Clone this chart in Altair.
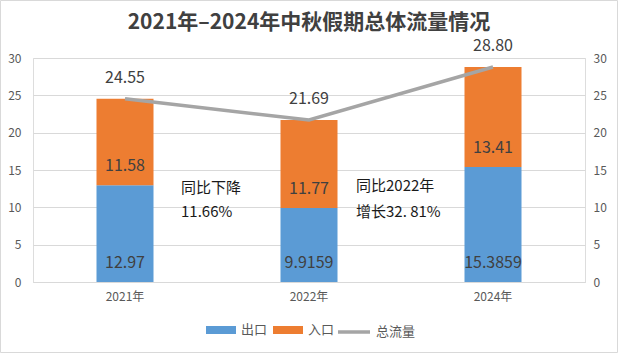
import altair as alt
import pandas as pd

# ---- data ----
years = ["2021年", "2022年", "2024年"]
series = ["出口", "入口"]
out_vals = [12.97, 9.9159, 15.3859]
in_vals = [11.58, 11.77, 13.41]
out_labels = ["12.97", "9.9159", "15.3859"]
in_labels = ["11.58", "11.77", "13.41"]
total_name = "总流量"
total_vals = [24.55, 21.69, 28.80]
total_labels = ["24.55", "21.69", "28.80"]

ann_years = ["2021年", "2021年", "2022年", "2022年"]
ann_texts = ["同比下降", "11.66%", "同比2022年", "增长32. 81%"]
ann_vals = [12.6, 9.4, 12.9, 9.4]

title_text = "2021年–2024年中秋假期总体流量情况"
colors = ["#5B9BD5", "#ED7D31"]
line_color = "#A5A5A5"
FONT = "Noto Sans CJK SC"

# ---- tables ----
rows = []
for i, yr in enumerate(years):
    rows.append({"year": yr, "series": series[0], "y": 0.0, "y1": out_vals[i], "label": out_labels[i]})
    rows.append({"year": yr, "series": series[1], "y": out_vals[i], "y1": out_vals[i] + in_vals[i], "label": in_labels[i]})
bars_df = pd.DataFrame(rows)
line_df = pd.DataFrame({"year": years, "name": total_name, "y": total_vals, "label": total_labels})
ann_df = pd.DataFrame({"year": ann_years, "text": ann_texts, "y": ann_vals})

x_enc = alt.X(
    "year:N", sort=years,
    scale=alt.Scale(paddingInner=0.69, paddingOuter=0.345),
    axis=alt.Axis(title=None, labelAngle=0, ticks=False, domain=True, domainColor="#D9D9D9",
                  labelColor="#595959", labelFontSize=12, labelPadding=9, labelFont=FONT),
)
y_scale = alt.Scale(domain=[0, 30], nice=False, zero=True)
left_axis = alt.Axis(title=None, values=[0, 5, 10, 15, 20, 25, 30], grid=True, gridColor="#D9D9D9",
                     domain=False, ticks=False, labelColor="#595959", labelFontSize=12,
                     labelPadding=12, labelFont=FONT)
right_axis = alt.Axis(title=None, orient="right", values=[0, 5, 10, 15, 20, 25, 30], grid=False,
                      domain=False, ticks=False, labelColor="#595959", labelFontSize=12,
                      labelPadding=8, labelFont=FONT)

bars = alt.Chart(bars_df).mark_bar(size=57).encode(
    x=x_enc,
    y=alt.Y("y:Q", scale=y_scale, axis=left_axis),
    y2="y1:Q",
    color=alt.Color("series:N", scale=alt.Scale(domain=series, range=colors),
                    legend=alt.Legend(orient="none", legendX=173, legendY=257, direction="horizontal",
                                      title=None, symbolType="M-1,-0.267H1V0.267H-1Z", symbolSize=900,
                                      symbolStrokeWidth=0, labelFontSize=13, labelColor="#595959",
                                      labelFont=FONT, labelOffset=5, columnPadding=5)),
)

seg_text = alt.Chart(bars_df).mark_text(fontSize=16, color="#404040", baseline="middle", align="center",
                                        dy=-19, font=FONT).encode(
    x=x_enc,
    y=alt.Y("y:Q", scale=y_scale, axis=left_axis),
    text="label:N",
)

ann1 = alt.Chart(ann_df).transform_filter(alt.datum.year == years[0]).mark_text(
    fontSize=15, color="#1a1a1a", align="left", baseline="middle", dx=56, font=FONT).encode(
    x=x_enc, y=alt.Y("y:Q", scale=y_scale, axis=left_axis), text="text:N")
ann2 = alt.Chart(ann_df).transform_filter(alt.datum.year == years[1]).mark_text(
    fontSize=15, color="#1a1a1a", align="left", baseline="middle", dx=47, font=FONT).encode(
    x=x_enc, y=alt.Y("y:Q", scale=y_scale, axis=left_axis), text="text:N")

left = alt.layer(bars, seg_text, ann1, ann2)

line = alt.Chart(line_df).mark_line(strokeWidth=3.5).encode(
    x=x_enc,
    y=alt.Y("y:Q", scale=y_scale, axis=right_axis),
    stroke=alt.Stroke("name:N", scale=alt.Scale(domain=[total_name], range=[line_color]),
                      legend=alt.Legend(orient="none", legendX=303, legendY=256, title=None,
                                        symbolType="stroke", symbolSize=1024, symbolStrokeWidth=3.5,
                                        labelFontSize=13, labelColor="#595959", labelFont=FONT,
                                        labelOffset=4)),
)
line_text = alt.Chart(line_df).mark_text(fontSize=16, color="#404040", baseline="middle",
                                         align="center", dy=-21, font=FONT).encode(
    x=x_enc, y=alt.Y("y:Q", scale=y_scale, axis=right_axis), text="label:N")

right = alt.layer(line, line_text)

border = alt.Chart(pd.DataFrame({"a": [0]})).mark_rect(fill=None, stroke="#D9D9D9", strokeWidth=1).encode(
    x=alt.value(-32.5), x2=alt.value(584.5), y=alt.value(-57.5), y2=alt.value(294.5))

chart = alt.layer(left, right, border).resolve_scale(y="independent").properties(
    width=552, height=224, autosize="none",
    padding={"left": 33, "top": 58, "right": 33, "bottom": 71},
    title=alt.TitleParams(title_text, fontSize=21, font=FONT, fontWeight="bold", color="#404040",
                          anchor="middle", offset=-33),
).configure_view(stroke=None).configure(background="white")

chart.save("out.html", embed_options={"renderer": "svg", "actions": False})
